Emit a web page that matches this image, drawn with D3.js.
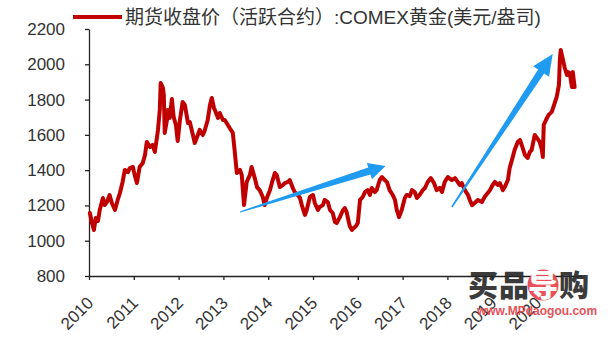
<!DOCTYPE html>
<html>
<head>
<meta charset="utf-8">
<script src="https://cdn.jsdelivr.net/npm/d3@7"></script>
<style>
  html, body { margin: 0; padding: 0; background: #fff; }
  svg { display: block; }
</style>
</head>
<body>
<svg id="chart" width="616" height="340"></svg>
<script>
// ---------------- data ----------------
const seriesName = "期货收盘价（活跃合约）:COMEX黄金(美元/盎司)";
const dates = [
  2010.02,2010.06,2010.11,2010.15,2010.20,2010.24,2010.31,2010.35,2010.40,2010.46,
  2010.51,2010.58,2010.64,2010.69,2010.75,2010.80,2010.87,2010.91,2010.98,2011.02,
  2011.07,2011.13,2011.20,2011.25,2011.29,2011.36,2011.42,2011.47,2011.54,2011.58,
  2011.60,2011.65,2011.67,2011.69,2011.74,2011.76,2011.80,2011.85,2011.89,2011.94,
  2011.98,2012.03,2012.09,2012.14,2012.21,2012.25,2012.32,2012.36,2012.43,2012.47,
  2012.54,2012.58,2012.65,2012.70,2012.74,2012.79,2012.81,2012.88,2012.92,2012.99,
  2013.03,2013.10,2013.14,2013.21,2013.25,2013.30,2013.37,2013.41,2013.46,2013.52,
  2013.59,2013.63,2013.70,2013.75,2013.81,2013.88,2013.92,2013.97,2014.04,2014.10,
  2014.15,2014.19,2014.26,2014.33,2014.37,2014.44,2014.48,2014.55,2014.59,2014.66,
  2014.71,2014.75,2014.82,2014.86,2014.93,2015.00,2015.04,2015.11,2015.15,2015.22,
  2015.26,2015.33,2015.38,2015.44,2015.49,2015.53,2015.60,2015.67,2015.71,2015.75,
  2015.82,2015.87,2015.91,2015.96,2016.00,2016.05,2016.11,2016.16,2016.22,2016.27,
  2016.31,2016.38,2016.42,2016.49,2016.54,2016.60,2016.65,2016.71,2016.78,2016.83,
  2016.87,2016.92,2016.98,2017.05,2017.09,2017.16,2017.21,2017.27,2017.32,2017.38,
  2017.45,2017.50,2017.56,2017.63,2017.70,2017.76,2017.83,2017.88,2017.94,2018.01,
  2018.10,2018.17,2018.23,2018.28,2018.32,2018.39,2018.46,2018.50,2018.55,2018.61,
  2018.68,2018.77,2018.83,2018.90,2018.95,2019.01,2019.06,2019.13,2019.17,2019.24,
  2019.28,2019.35,2019.39,2019.44,2019.50,2019.57,2019.62,2019.68,2019.73,2019.79,
  2019.84,2019.88,2019.95,2020.00,2020.06,2020.11,2020.13,2020.15,2020.20,2020.26,
  2020.33,2020.38,2020.44,2020.49,2020.51,2020.53,2020.58,2020.62,2020.67,2020.69,
  2020.73,2020.78,2020.80,2020.82,2020.84
];
const prices = [
  1157,1106,1061,1129,1112,1174,1242,1202,1219,1259,
  1214,1174,1231,1270,1333,1401,1389,1412,1418,1372,
  1327,1418,1440,1486,1560,1531,1543,1503,1628,1741,
  1894,1866,1826,1611,1684,1741,1696,1803,1701,1656,
  1565,1684,1786,1769,1667,1673,1599,1554,1599,1628,
  1599,1622,1684,1769,1809,1752,1741,1696,1724,1684,
  1684,1656,1639,1611,1514,1384,1401,1372,1202,1333,
  1372,1418,1355,1304,1287,1248,1202,1242,1287,1344,
  1384,1372,1304,1316,1327,1333,1344,1299,1276,1259,
  1242,1202,1146,1174,1248,1259,1214,1174,1191,1202,
  1231,1219,1174,1157,1106,1100,1134,1174,1185,1163,
  1083,1061,1072,1083,1100,1231,1248,1276,1287,1259,
  1299,1276,1287,1344,1361,1344,1333,1287,1259,1231,
  1174,1134,1174,1242,1259,1253,1287,1276,1242,1259,
  1287,1299,1333,1355,1327,1287,1299,1276,1333,1361,
  1344,1355,1333,1316,1327,1287,1259,1231,1202,1214,
  1231,1219,1248,1270,1287,1316,1333,1316,1327,1287,
  1304,1344,1412,1457,1514,1560,1571,1526,1486,1469,
  1503,1514,1599,1582,1560,1514,1474,1656,1684,1713,
  1730,1769,1815,1883,2024,2081,2024,1979,1939,1956,
  1951,1871,1956,1911,1871
];
const yTicks = [800, 1000, 1200, 1400, 1600, 1800, 2000, 2200];
const xTicks = [2010, 2011, 2012, 2013, 2014, 2015, 2016, 2017, 2018, 2019, 2020];
// trend arrows (in data units: [year, price])
const arrowFrom = [[2013.37, 1163], [2018.10, 1191]];
const arrowTo   = [[2016.62, 1424], [2020.35, 2058]];
const watermarkChars = ["买", "品", "导", "购"];
const watermarkUrl = "www.MPdaogou.com";

// ---------------- chart ----------------
const svg = d3.select("#chart");
svg.append("rect").attr("width", 616).attr("height", 340).attr("fill", "#fff");

const x = d3.scaleLinear().domain([2010, 2021]).range([89, 581.8]);
const y = d3.scaleLinear().domain([800, 2200]).range([276, 29]);

const font = "'Liberation Sans', Arial, 'Noto Sans CJK SC', sans-serif";

// y axis
const yAxis = svg.append("g")
  .attr("transform", "translate(89,0)")
  .call(d3.axisLeft(y).tickValues(yTicks).tickSize(4).tickSizeOuter(0).tickPadding(20).tickFormat(d3.format("d")));
yAxis.selectAll("path,line").attr("stroke", "#222").attr("stroke-width", 1.3);
yAxis.selectAll("text").attr("font-family", font).attr("font-size", 17).attr("fill", "#333");

// x axis
const xAxis = svg.append("g")
  .attr("transform", "translate(0,276)")
  .call(d3.axisBottom(x).tickValues(xTicks).tickSize(4).tickSizeOuter(0).tickFormat(d3.format("d")));
xAxis.selectAll("path,line").attr("stroke", "#222").attr("stroke-width", 1.3);
xAxis.selectAll("text")
  .attr("font-family", font).attr("font-size", 17).attr("fill", "#333")
  .attr("text-anchor", "end")
  .attr("x", 0).attr("y", 0).attr("dy", 0)
  .attr("transform", "translate(5,28) rotate(-45)");

// series line
const pts = dates.map((d, i) => [d, prices[i]]);
svg.append("path")
  .datum(pts)
  .attr("fill", "none")
  .attr("stroke", "#C00000")
  .attr("stroke-width", 4)
  .attr("stroke-linejoin", "round")
  .attr("stroke-linecap", "round")
  .attr("d", d3.line().x(d => x(d[0])).y(d => y(d[1])));

// arrows
const arrowStyle = [
  { w0: 0.6, ws: 3.6, hw: 8.5, hl: 17 },
  { w0: 0.8, ws: 3.6, hw: 9.5, hl: 21 }
];
arrowFrom.forEach((f, i) => {
  const p0 = [x(f[0]), y(f[1])];
  const p1 = [x(arrowTo[i][0]), y(arrowTo[i][1])];
  const dx = p1[0] - p0[0], dy = p1[1] - p0[1];
  const L = Math.hypot(dx, dy);
  const u = [dx / L, dy / L], n = [-u[1], u[0]];
  const s = arrowStyle[i];
  const b = [p1[0] - u[0] * s.hl, p1[1] - u[1] * s.hl];
  const P = (c, k) => [c[0] + n[0] * k, c[1] + n[1] * k];
  const poly = [P(p0, s.w0), P(b, s.ws), P(b, s.hw), p1, P(b, -s.hw), P(b, -s.ws), P(p0, -s.w0)];
  svg.append("path")
    .attr("d", "M" + poly.map(p => p.join(",")).join("L") + "Z")
    .attr("fill", "#1F9BF2");
});

// legend
const lg = svg.append("g");
lg.append("line").attr("x1", 73).attr("x2", 122).attr("y1", 17).attr("y2", 17)
  .attr("stroke", "#C00000").attr("stroke-width", 4);
lg.append("text").attr("x", 125).attr("y", 24)
  .attr("font-family", font).attr("font-size", 19).attr("fill", "#333")
  .text(seriesName);

// watermark
const wm = svg.append("g").attr("opacity", 0.92);
const cx = [483, 514, 543, 574];
watermarkChars.forEach((c, i) => {
  if (i === 2) {
    wm.append("circle").attr("cx", cx[i]).attr("cy", 285).attr("r", 15.5).attr("fill", "#E8434B");
  }
  wm.append("text").attr("x", cx[i]).attr("y", 296).attr("text-anchor", "middle")
    .attr("font-family", "'Noto Sans CJK SC', sans-serif").attr("font-weight", 900)
    .attr("font-size", 30).attr("fill", i === 2 ? "#fff" : "#2b2b2b").text(c);
});
wm.append("text").attr("x", 537).attr("y", 315).attr("text-anchor", "middle")
  .attr("font-family", font).attr("font-weight", "bold").attr("font-size", 12)
  .attr("fill", "#E8434B").text(watermarkUrl);
</script>
</body>
</html>
